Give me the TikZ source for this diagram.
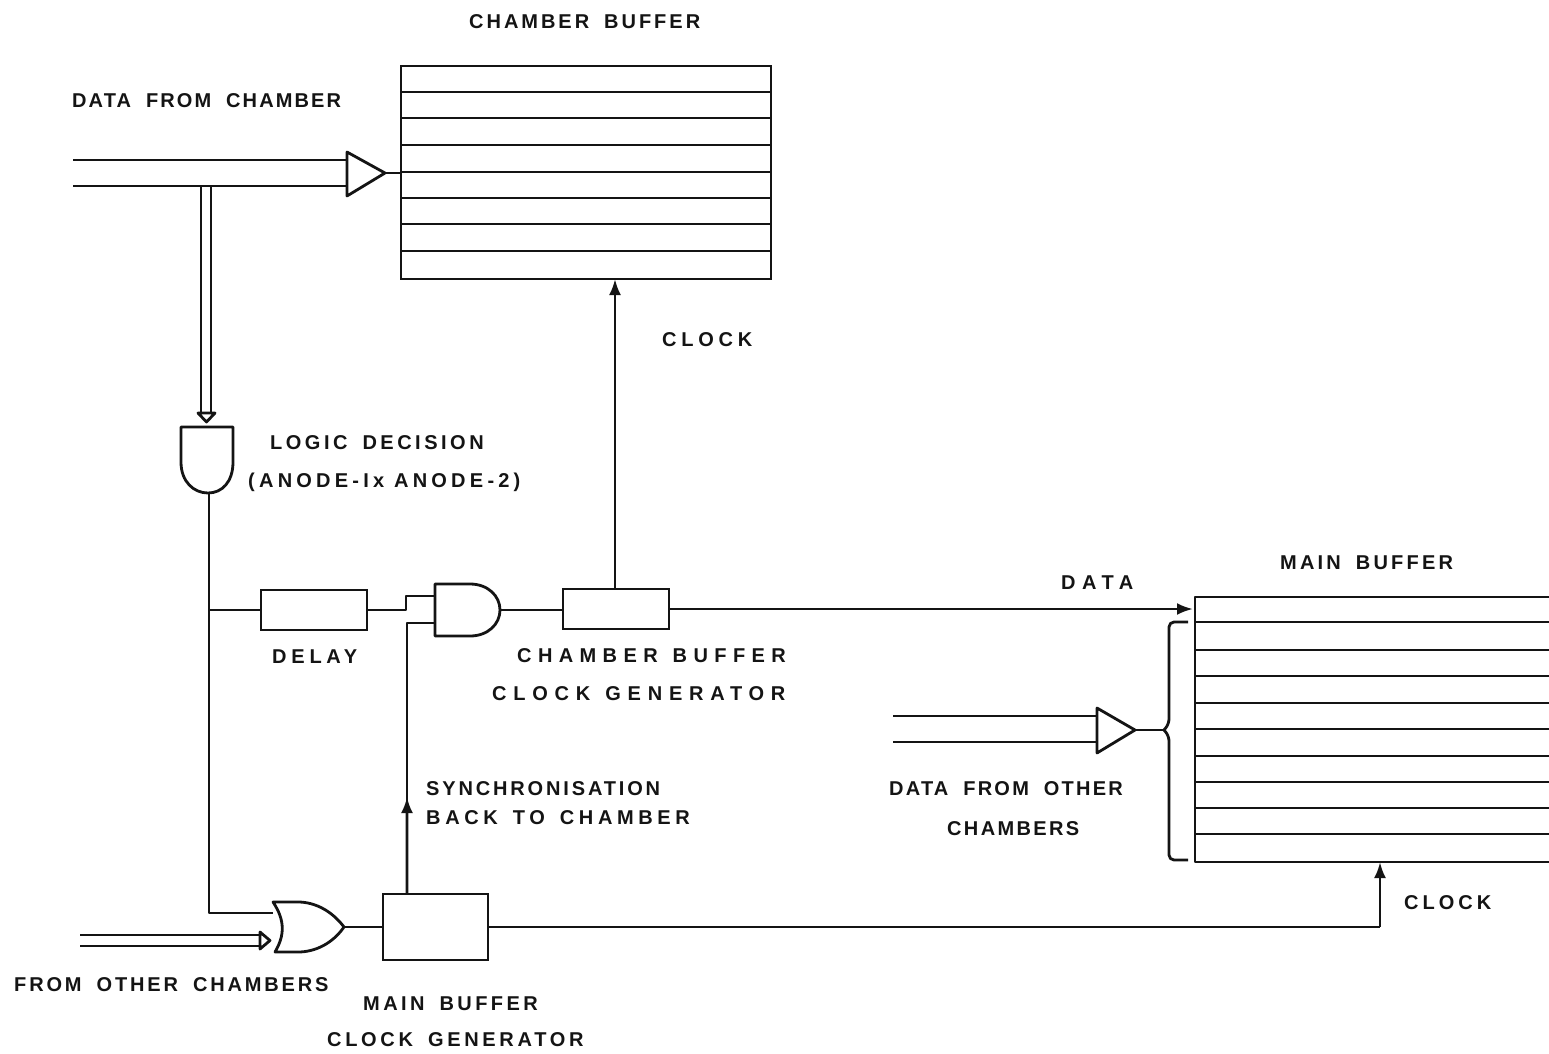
\documentclass[tikz,border=0pt]{standalone}
\usepackage{fontspec}
\setmainfont{Liberation Sans}
\usetikzlibrary{arrows.meta}
\newsavebox{\labbox}
\newcommand{\lab}[3]{\bfseries\sbox{\labbox}{#3}\pgfmathsetmacro{\lsp}{(#1-\wd\labbox/1pt)/(#2-1)/20*100}\addfontfeature{LetterSpace=\lsp}#3}
\newcommand{\wg}{\hspace{15pt}}
\tikzset{
  x=1pt,y=-1pt,
  wire/.style={line width=2.8pt,black!92,line join=round},
  thin wire/.style={line width=2.5pt,black!92},
  gate/.style={wire,fill=white},
  head/.style={-{Latex[length=16pt,width=12pt]}},
  box/.style={draw=black!92,line width=2.8pt,fill=white,inner sep=0pt,outer sep=0pt,minimum width=#1,anchor=north west},
  lab/.style={inner sep=0pt,anchor=base west,font=\fontsize{20}{20}\selectfont,text=black!92},
}
\begin{document}
\begin{tikzpicture}
\useasboundingbox[fill=white] (0,0) rectangle (1549,1053);
% ---- blocks
\node[box=370pt,minimum height=213pt] (cb) at (401,66) {};
\node[box=106pt,minimum height=40pt] (delay) at (261,590) {};
\node[box=106pt,minimum height=40pt] (cbgen) at (563,589) {};
\node[box=105pt,minimum height=66pt] (mbgen) at (383,894) {};
\foreach \yy in {92,118,145,172,198,224,251}
  \draw[thin wire] (401,\yy) -- (771,\yy);
% main buffer runs off the page
\coordinate (mbTL) at (1195,597); \coordinate (mbTR) at (1549,597);
\coordinate (mbBL) at (1195,862); \coordinate (mbBR) at (1549,862);
\draw[wire] (mbTR) -- (mbTL) -- (mbBL) -- (mbBR);
\foreach \yy in {622,650,676,703,729,756,782,808,834}
  \draw[thin wire] (1195,\yy) -- (1549,\yy);
% ---- gates
\coordinate (t1a) at (347,152); \coordinate (t1b) at (347,196); \coordinate (t1o) at (385,173);
\draw[gate] (t1a) -- (t1o) -- (t1b) -- cycle;
\coordinate (t2a) at (1097,708); \coordinate (t2b) at (1097,753); \coordinate (t2o) at (1135,730);
\draw[gate] (t2a) -- (t2o) -- (t2b) -- cycle;
\coordinate (ldo) at (208,493);
\draw[gate] (181,427) -- (233,427) -- (233,462) .. controls (233,482) and (222,493) .. (ldo) .. controls (194,493) and (181,482) .. (181,462) -- cycle;
\coordinate (ando) at (500,610);
\draw[gate] (435,584) -- (470,584) .. controls (488,584) and (500,596) .. (ando) .. controls (500,624) and (488,636) .. (470,636) -- (435,636) -- cycle;
\coordinate (oro) at (344,927);
\draw[gate] (273,902) -- (300,902) .. controls (320,903) and (335,915) .. (oro) .. controls (335,940) and (320,951) .. (300,952) -- (275,952) .. controls (285,935) and (285,920) .. (273,902) -- cycle;
% ---- data bus from chamber
\coordinate (busA) at (73,160); \coordinate (busB) at (73,186);
\draw[wire] (busA) -- (busA -| t1a);
\draw[wire] (busB) -- (busB -| t1a);
\draw[wire] (t1o) -- (t1o -| cb.west);
% double line to the logic decision gate
\coordinate (dbA) at (201,186); \coordinate (dbB) at (211,186);
\draw[wire] (dbA) -- (201,413);
\draw[wire] (dbB) -- (211,413);
\draw[gate] (198,413) -- (215,413) -- (206.5,422) -- cycle;
% ---- logic decision output
\coordinate (j1) at (209,610); \coordinate (j2) at (209,913);
\draw[wire] (j1 |- ldo) -- (j1) -- (j2) -- (273,913);
\draw[wire] (j1) -- (delay.west);
\draw[wire] (delay.east) -- (406,610) -- (406,596) -- (435,596);
\draw[wire] (ando) -- (ando -| cbgen.west);
% chamber clock
\coordinate (ck1) at (615,589);
\draw[wire,head] (ck1) -- (ck1 |- cb.south);
% data to main buffer
\draw[wire,head,shorten >=2pt] (cbgen.east) -- (cbgen.east -| mbTL);
% synchronisation
\coordinate (sy) at (407,894);
\draw[wire] (sy) -- (407,623) -- (435,623);
\draw[wire,head] (sy) -- (407.01,797);
% from other chambers
\draw[wire] (80,935) -- (260,935);
\draw[wire] (80,946) -- (260,946);
\draw[gate] (260,932) -- (270,940.5) -- (260,949) -- cycle;
\draw[wire] (oro) -- (mbgen.west |- oro);
% main clock
\coordinate (ck2) at (1380,927);
\draw[wire] (mbgen.east |- ck2) -- (ck2);
\draw[wire,head] (ck2) -- (ck2 |- mbBL);
% other chambers data
\coordinate (b2A) at (893,716); \coordinate (b2B) at (893,742);
\draw[wire] (b2A) -- (b2A -| t2a);
\draw[wire] (b2B) -- (b2B -| t2a);
\coordinate (brk) at (1164,730);
\draw[wire] (t2o) -- (brk);
\draw[wire,rounded corners=5pt] (1188,622) -- (1169,622) -- (1169,724) -- (brk);
\draw[wire,rounded corners=5pt] (brk) -- (1169,736) -- (1169,860) -- (1188,860);
% ---- labels
\node[lab] (l1) at (469,28) {\lab{234}{13}{CHAMBER\wg BUFFER}};
\node[lab] (l2) at (72,107) {\lab{273}{15}{DATA\wg FROM\wg CHAMBER}};
\node[lab] (l3) at (662,346) {\lab{90}{5}{CLOCK}};
\node[lab] (l4) at (270,449) {\lab{217}{13}{LOGIC\wg DECISION}};
\node[lab] (l5) at (248,487) {\lab{268}{16}{(ANODE-Ix ANODE-2)}};
\node[lab] (l6) at (1061,589) {\lab{72}{4}{DATA}};
\node[lab] (l7) at (1280,569) {\lab{176}{10}{MAIN\wg BUFFER}};
\node[lab] (l8) at (272,663) {\lab{85}{5}{DELAY}};
\node[lab] (l9) at (517,662) {\lab{275}{13}{CHAMBER\wg BUFFER}};
\node[lab] (l10) at (492,700) {\lab{300}{14}{CLOCK\wg GENERATOR}};
\node[lab] (l11) at (426,795) {\lab{234}{15}{SYNCHRONISATION}};
\node[lab] (l12) at (426,824) {\lab{273}{13}{BACK\wg TO\wg CHAMBER}};
\node[lab] (l13) at (889,795) {\lab{238}{13}{DATA\wg FROM\wg OTHER}};
\node[lab] (l14) at (947,835) {\lab{132}{8}{CHAMBERS}};
\node[lab] (l15) at (1404,909) {\lab{87}{5}{CLOCK}};
\node[lab] (l16) at (14,991) {\lab{320}{17}{FROM\wg OTHER\wg CHAMBERS}};
\node[lab] (l17) at (363,1010) {\lab{178}{10}{MAIN\wg BUFFER}};
\node[lab] (l18) at (327,1046) {\lab{260}{14}{CLOCK\wg GENERATOR}};
\end{tikzpicture}
\end{document}
